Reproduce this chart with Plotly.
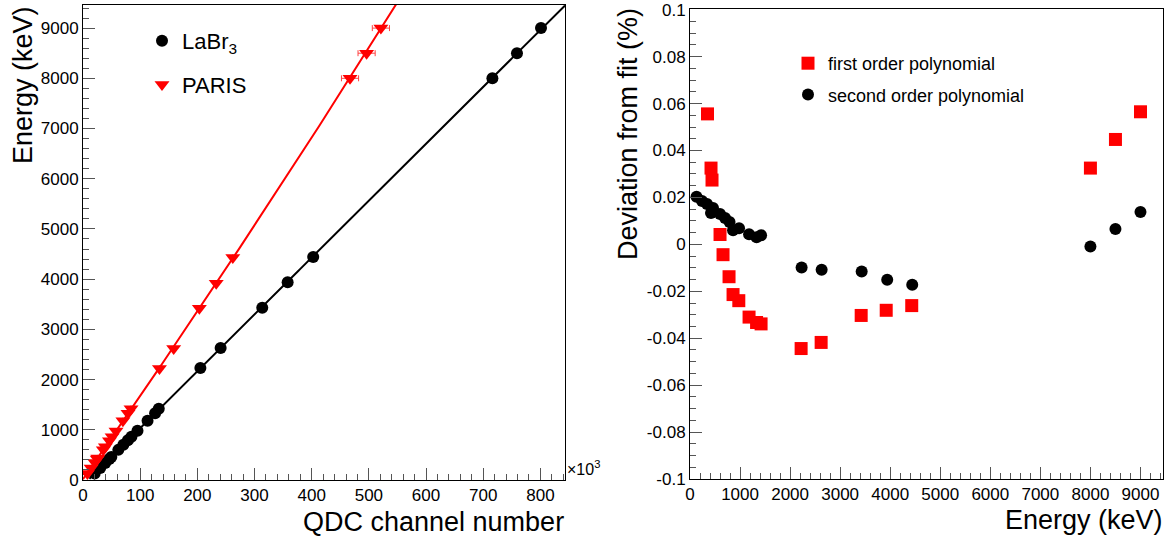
import numpy as np
import plotly.graph_objects as go

W, H = 1171, 539

# ---------------- data ----------------
# LaBr3 calibration points (energy in keV, QDC channel in units of 10^3)
labr_energy = [130, 240, 340, 420, 460, 600, 700, 790, 860, 980, 1180, 1330, 1420,
               2230, 2630, 3430, 3940, 4440, 8000, 8500, 9000]
labr_qdc = [20.4, 30.1, 38.9, 46.0, 49.5, 61.8, 70.6, 78.5, 84.7, 95.3, 112.9, 126.1, 132.5,
            205.3, 240.7, 313.5, 357.9, 402.6, 716.0, 759.0, 801.0]

# PARIS calibration points
paris_energy = [130, 240, 350, 420, 440, 600, 660, 780, 860, 975, 1180, 1330, 1420,
                2220, 2620, 3420, 3920, 4430, 8000, 8500, 9000]
paris_qdc = [7.7, 14.2, 20.7, 24.9, 26.0, 35.5, 39.1, 46.2, 50.9, 57.7, 69.8, 78.7, 84.0,
             133.7, 158.6, 203.5, 233.0, 262.0, 467.0, 496.0, 521.0]
paris_qdc_err = [0, 0, 0, 0, 0, 0, 0, 0, 0, 0, 0, 0, 0,
                 0, 0, 0, 0, 0, 15.0, 15.0, 15.0]

# Deviation from fit (%)
first_energy = [350, 420, 440, 600, 660, 780, 860, 975, 1180, 1330, 1420,
                2220, 2620, 3420, 3920, 4430, 8000, 8500, 9000]
first_dev = [0.0556, 0.0325, 0.0274, 0.0042, -0.0044, -0.0138, -0.0214, -0.0240, -0.0310,
             -0.0333, -0.0339, -0.0444, -0.0418, -0.0303, -0.0281, -0.0261, 0.0325, 0.0447, 0.0565]

second_energy = [130, 240, 340, 420, 460, 600, 700, 790, 860, 980, 1180, 1330, 1420,
                 2230, 2630, 3430, 3940, 4440, 8000, 8500, 9000]
second_dev = [0.0203, 0.0185, 0.0172, 0.0134, 0.0155, 0.0129, 0.0112, 0.0095, 0.0060, 0.0069,
              0.0043, 0.0030, 0.0039, -0.0099, -0.0108, -0.0116, -0.0151, -0.0172,
              -0.0009, 0.0065, 0.0138]

dev_ticks = [-0.1, -0.08, -0.06, -0.04, -0.02, 0, 0.02, 0.04, 0.06, 0.08, 0.1]
dev_tick_labels = ["-0.1", "-0.08", "-0.06", "-0.04", "-0.02", "0",
                   "0.02", "0.04", "0.06", "0.08", "0.1"]

# ---------------- layout geometry (screen pixels -> paper fractions) ----------------
def px_x(p):
    return p / W

def px_y(p):
    return 1 - p / H

XL = [0, 843]
YL = [0, 9460]
XR = [0, 9450]
YR = [-0.1, 0.1003]

FONT = "Liberation Sans, Arial, Helvetica, sans-serif"
RED = "#ff0000"

fig = go.Figure()

# calibration fits drawn from the data
lab_fit = np.polyfit(labr_qdc, labr_energy, 1)
par_fit = np.polyfit(paris_qdc, paris_energy, 2)

for fit, col, xstart in ((lab_fit, "black", labr_qdc[0] - 12), (par_fit, RED, 0.0)):
    xx = np.linspace(max(xstart, 0), XL[1], 300)
    yy = np.polyval(fit, xx)
    keep = yy >= 0
    fig.add_trace(go.Scatter(x=xx[keep], y=yy[keep], mode="lines",
                             line=dict(color=col, width=2), showlegend=False,
                             hoverinfo="skip", xaxis="x", yaxis="y"))

fig.add_trace(go.Scatter(x=labr_qdc, y=labr_energy, mode="markers", name="LaBr<sub>3</sub>",
                         marker=dict(symbol="circle", size=12, color="black"),
                         xaxis="x", yaxis="y", legend="legend", legendgroup="a"))
fig.add_trace(go.Scatter(x=paris_qdc, y=paris_energy, mode="markers", name="PARIS",
                         marker=dict(symbol="triangle-down", size=13, color=RED),
                         error_x=dict(type="data", array=paris_qdc_err, color="#ff4040",
                                      thickness=1, width=3),
                         xaxis="x", yaxis="y", legend="legend", legendgroup="b"))

fig.add_trace(go.Scatter(x=first_energy, y=first_dev, mode="markers", name="first order polynomial",
                         marker=dict(symbol="square", size=13, color=RED),
                         xaxis="x2", yaxis="y2", legend="legend2", legendgroup="c"))
fig.add_trace(go.Scatter(x=second_energy, y=second_dev, mode="markers", name="second order polynomial",
                         marker=dict(symbol="circle", size=12, color="black"),
                         xaxis="x2", yaxis="y2", legend="legend2", legendgroup="d"))

tickfont = dict(family=FONT, size=17, color="black")
common = dict(showgrid=False, zeroline=False, showline=True, linecolor="black", linewidth=1,
              mirror=True, ticks="inside", tickcolor="#555555", tickwidth=1,
              tickfont=tickfont, fixedrange=True, automargin=False)

fig.update_layout(
    width=W, height=H,
    margin=dict(l=0, r=0, t=0, b=0, autoexpand=False),
    paper_bgcolor="white", plot_bgcolor="white",
    font=dict(family=FONT, color="black"),
    xaxis=dict(domain=[px_x(83), px_x(565)], range=XL, dtick=100, tick0=0, ticklen=12,
               minor=dict(dtick=20, ticklen=6, ticks="inside", tickcolor="#555555"),
               anchor="y", **common),
    yaxis=dict(domain=[px_y(480), px_y(5)], range=YL, dtick=1000, tick0=0, ticklen=12,
               minor=dict(dtick=200, ticklen=6, ticks="inside", tickcolor="#555555"),
               anchor="x", **common),
    xaxis2=dict(domain=[px_x(690), px_x(1163)], range=XR, dtick=1000, tick0=0, ticklen=12,
                minor=dict(dtick=200, ticklen=6, ticks="inside", tickcolor="#555555"),
                anchor="y2", **common),
    yaxis2=dict(domain=[px_y(479), px_y(9)], range=YR, tickmode="array",
                tickvals=dev_ticks, ticktext=dev_tick_labels, ticklen=12,
                minor=dict(dtick=0.005, tick0=0, ticklen=6, ticks="inside", tickcolor="#555555"),
                anchor="x2", **common),
    legend=dict(x=px_x(142), y=px_y(20), xanchor="left", yanchor="top",
                font=dict(family=FONT, size=22, color="black"),
                bgcolor="rgba(0,0,0,0)", tracegroupgap=12),
    legend2=dict(x=px_x(788), y=px_y(45), xanchor="left", yanchor="top",
                 font=dict(family=FONT, size=18, color="black"),
                 bgcolor="rgba(0,0,0,0)", tracegroupgap=5),
    showlegend=True,
)

ann_font = dict(family=FONT, size=27, color="black")
fig.add_annotation(text="Energy (keV)", x=px_x(23), y=px_y(4), xref="paper", yref="paper",
                   textangle=-90, xanchor="center", yanchor="top", showarrow=False, font=ann_font)
fig.add_annotation(text="QDC channel number", x=px_x(566), y=px_y(522), xref="paper", yref="paper",
                   xanchor="right", yanchor="middle", showarrow=False, font=ann_font)
fig.add_annotation(text="×10<sup>3</sup>", x=px_x(565), y=px_y(468), xref="paper", yref="paper",
                   xanchor="left", yanchor="middle", showarrow=False,
                   font=dict(family=FONT, size=16, color="black"))
fig.add_annotation(text="Deviation from fit (%)", x=px_x(628), y=px_y(6), xref="paper", yref="paper",
                   textangle=-90, xanchor="center", yanchor="top", showarrow=False, font=ann_font)
fig.add_annotation(text="Energy (keV)", x=px_x(1165), y=px_y(520), xref="paper", yref="paper",
                   xanchor="right", yanchor="middle", showarrow=False, font=ann_font)

fig.write_html("out.html", config={"displayModeBar": False},
               post_script="document.body.style.margin='0px';document.body.style.overflow='hidden';")
